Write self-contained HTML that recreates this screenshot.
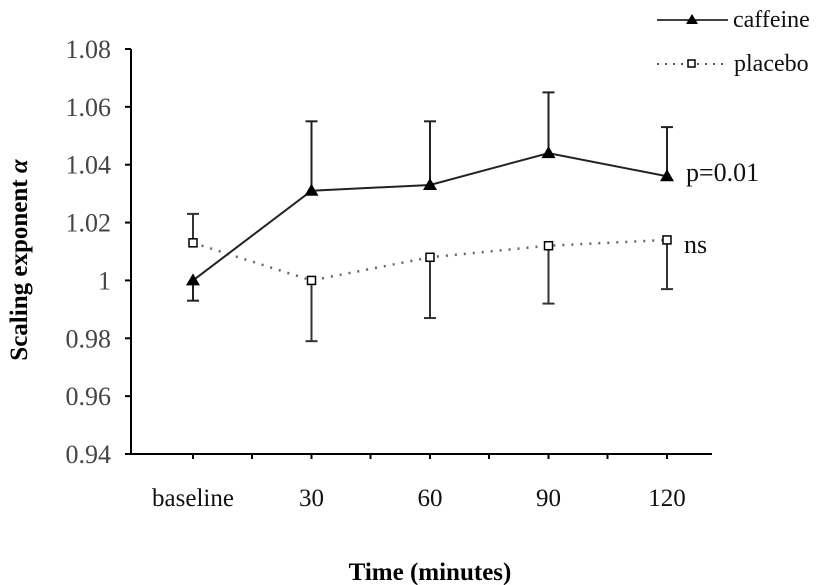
<!DOCTYPE html>
<html><head><meta charset="utf-8"><style>
html,body{margin:0;padding:0;background:#fff;}
svg{display:block;font-family:"Liberation Serif",serif;}
</style></head><body>
<svg id="chart" width="827" height="585" viewBox="0 0 827 585">
<g id="axes"></g><g id="series"></g>
<g>
 <g>
  <line x1="657" y1="20" x2="728" y2="20" stroke="#000" stroke-width="1.5"/>
  <polygon points="692,14 686,24 698,24" fill="#000"/>
  <text x="733" y="27" font-size="24" fill="#111">caffeine</text>
 </g>
 <g>
  <line x1="657" y1="64" x2="728" y2="64" stroke="#555" stroke-width="2" stroke-dasharray="2,6"/>
  <rect x="688" y="60" width="7" height="7" fill="#fff" stroke="#000" stroke-width="1.5"/>
  <text x="734" y="71" font-size="24" fill="#111">placebo</text>
 </g>
</g>
<text x="686" y="181" font-size="26" fill="#111">p=0.01</text>
<text x="684" y="253" font-size="26" fill="#111">ns</text>
<text x="430" y="580" font-size="25" font-weight="bold" text-anchor="middle">Time (minutes)</text>
<text transform="translate(27,260) rotate(-90)" font-size="25" font-weight="bold" text-anchor="middle">Scaling exponent <tspan font-style="italic">α</tspan></text>
</svg>
<script>
const categories=["baseline","30","60","90","120"];
const caffeine=[1.000,1.031,1.033,1.044,1.036];
const caffeineErr=[-0.007,0.024,0.022,0.021,0.017];
const placebo=[1.013,1.000,1.008,1.012,1.014];
const placeboErr=[0.010,-0.021,-0.021,-0.020,-0.017];
const yTicks=[0.94,0.96,0.98,1,1.02,1.04,1.06,1.08];
const yTickLabels=["0.94","0.96","0.98","1","1.02","1.04","1.06","1.08"];
const NS="http://www.w3.org/2000/svg";
const x0=131,x1=712,y0=454,y1=49;
const xs=i=>193+i*118.5;
const ys=v=>y0-(v-0.94)/(0.14)*(y0-y1);
function mk(t,a,p){const e=document.createElementNS(NS,t);for(const k in a)e.setAttribute(k,a[k]);p.appendChild(e);return e;}
const ax=document.getElementById('axes'),se=document.getElementById('series');
let l=mk('line',{x1:x0,y1:y1,x2:x0,y2:y0+1,stroke:'#000','stroke-width':2},ax);


l=mk('line',{x1:x0-6,y1:y0,x2:x1,y2:y0,stroke:'#000','stroke-width':2},ax);


yTicks.forEach((v,i)=>{
 mk('line',{x1:x0-6,y1:ys(v),x2:x0,y2:ys(v),stroke:'#000','stroke-width':2},ax);
 const t=mk('text',{x:x0-20,y:ys(v)+9,'font-size':26,'text-anchor':'end',fill:'#444'},ax);
 t.textContent=yTickLabels[i];
 
 
});
categories.forEach((c,i)=>{
 mk('line',{x1:xs(i),y1:y0,x2:xs(i),y2:y0+5,stroke:'#000','stroke-width':2},ax);
 if(i<categories.length-1) mk('line',{x1:xs(i)+59,y1:y0,x2:xs(i)+59,y2:y0+5,stroke:'#000','stroke-width':2},ax);
 const t=mk('text',{x:xs(i),y:506,'font-size':25,'text-anchor':'middle',fill:'#111'},ax);
 t.textContent=c;
 
 
});
function errs(vals,er,name,color){
 vals.forEach((v,i)=>{
  const g=mk('g',{stroke:color,'stroke-width':2},se);
  
  
  const a=ys(v),b=ys(v+er[i]);
  mk('line',{x1:xs(i),y1:a,x2:xs(i),y2:b},g);
  mk('line',{x1:xs(i)-6,y1:b,x2:xs(i)+6,y2:b},g);
 });
}
errs(caffeine,caffeineErr,'caffeine','#222');
errs(placebo,placeboErr,'placebo','#333');
let pts=placebo.map((v,i)=>xs(i)+','+ys(v)).join(' ');
l=mk('polyline',{points:pts,fill:'none',stroke:'#666','stroke-width':2.5,'stroke-dasharray':'2,7'},se);


pts=caffeine.map((v,i)=>xs(i)+','+ys(v)).join(' ');
l=mk('polyline',{points:pts,fill:'none',stroke:'#222','stroke-width':2},se);


placebo.forEach((v,i)=>{
 const r=mk('rect',{x:xs(i)-4,y:ys(v)-4,width:8,height:8,fill:'#fff',stroke:'#000','stroke-width':1.5},se);
 
 
});
caffeine.forEach((v,i)=>{
 const x=xs(i),y=ys(v);
 const p=mk('polygon',{points:`${x},${y-7} ${x-7},${y+5} ${x+7},${y+5}`,fill:'#000'},se);
 
 
});
</script>
</body></html>
